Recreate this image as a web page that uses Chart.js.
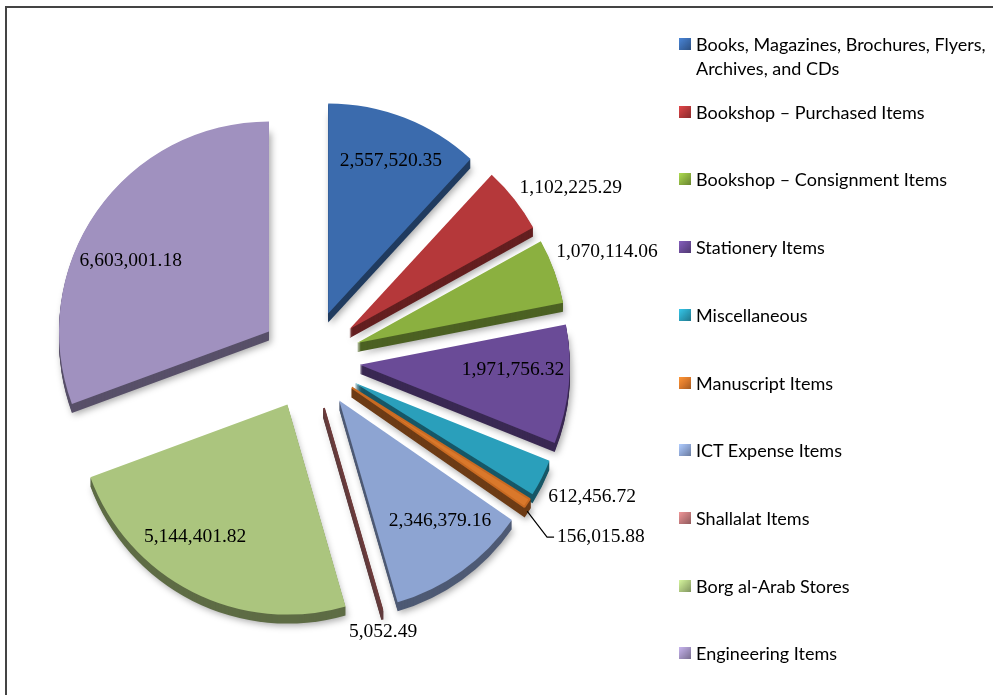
<!DOCTYPE html>
<html>
<head>
<meta charset="utf-8">
<script src="https://cdn.jsdelivr.net/npm/chart.js@4/dist/chart.umd.min.js"></script>
<style>
  body { margin: 0; background: #fff; }
  #frame {
    position: absolute; left: 5px; top: 6px; width: 1000px; height: 700px;
    border-top: 2px solid #444; border-left: 2px solid #444;
  }
  #pie { position: absolute; left: 0; top: 0; }
  #legend { position: absolute; left: 679px; top: 0; font: 18px Lato, "Open Sans", sans-serif; color: #000; }
  .item { position: absolute; left: 0; display: flex; align-items: flex-start; white-space: nowrap; line-height: 24px; }
  .swatch { width: 12px; height: 12px; margin-top: 6px; margin-right: 5px; flex: none; }
</style>
</head>
<body>
<div id="frame"></div>
<canvas id="pie" width="993" height="695"></canvas>
<div id="legend"></div>
<script>
// categories and amounts
const categories = [
  ["Books, Magazines, Brochures, Flyers,", "Archives, and CDs"],
  "Bookshop \u2013 Purchased Items",
  "Bookshop \u2013 Consignment Items",
  "Stationery Items",
  "Miscellaneous",
  "Manuscript Items",
  "ICT Expense Items",
  "Shallalat Items",
  "Borg al-Arab Stores",
  "Engineering Items"
];
const amounts = [2557520.35, 1102225.29, 1070114.06, 1971756.32, 612456.72,
                 156015.88, 2346379.16, 5052.49, 5144401.82, 6603001.18];

const sliceColors = ["#3B6BAD", "#B5383A", "#8BB040", "#6A4B97", "#2A9FBB",
                     "#D9782B", "#8DA4D2", "#C0787A", "#ABC57E", "#A091BF"];
// the two thinnest slices get an outline so they stay visible
const sliceBorders = [0, 0, 0, 0, 0, 2, 0, 2, 0, 0];
const sliceBorderColors = ["#000", "#000", "#000", "#000", "#000",
                           "#C86A22", "#000", "#6E3B3B", "#000", "#000"];

// where each value label sits: fraction of radius, and a small angle tweak (deg)
const labelRadius = [0.785, 1.25, 1.267, 0.73, 1.255, 1.384, 0.748, 1.103, 0.769, 0.738];
const labelTurn = [1, 5.6, 0, -3.4, -1.3, -2.4, -4.2, 1.3, 8, -8];
const leaderLines = [false, false, false, false, false, true, false, false, false, false];

const EXPLODE = 50;
const DEPTH = 9;

function shade(hex, f) {
  const n = parseInt(hex.slice(1), 16);
  const r = Math.min(255, Math.round(((n >> 16) & 255) * f));
  const g = Math.min(255, Math.round(((n >> 8) & 255) * f));
  const b = Math.min(255, Math.round((n & 255) * f));
  return `rgb(${r},${g},${b})`;
}

// pull every slice out from the centre and give it a thick lower side
const explodedPie = {
  id: "explodedPie",
  beforeDatasetDraw(chart, args) {
    const ctx = chart.ctx;
    const arcs = args.meta.data;

    arcs.forEach((arc, i) => {
      const mid = (arc.startAngle + arc.endAngle) / 2;
      const dx = Math.cos(mid) * EXPLODE, dy = Math.sin(mid) * EXPLODE;
      ctx.save();
      ctx.translate(dx, dy);
      ctx.fillStyle = shade(sliceColors[i], 0.55);
      ctx.strokeStyle = shade(sliceColors[i], 0.5);
      for (let k = DEPTH; k >= 1; k--) {
        if (k === DEPTH) {
          ctx.shadowColor = "rgba(0,0,0,0.35)";
          ctx.shadowBlur = 7;
          ctx.shadowOffsetX = 2;
          ctx.shadowOffsetY = 2;
        } else {
          ctx.shadowColor = "transparent";
        }
        ctx.beginPath();
        ctx.moveTo(arc.x, arc.y + k);
        ctx.arc(arc.x, arc.y + k, arc.outerRadius, arc.startAngle, arc.endAngle);
        ctx.closePath();
        ctx.fill();
        if (sliceBorders[i]) { ctx.lineWidth = sliceBorders[i]; ctx.stroke(); }
      }
      ctx.restore();
    });

    arcs.forEach(arc => {
      const mid = (arc.startAngle + arc.endAngle) / 2;
      ctx.save();
      ctx.translate(Math.cos(mid) * EXPLODE, Math.sin(mid) * EXPLODE);
      arc.draw(ctx);
      ctx.restore();
    });
    return false;
  }
};

// value labels, with a leader line for the narrow ones
const sliceLabels = {
  id: "sliceLabels",
  afterDatasetsDraw(chart) {
    const ctx = chart.ctx;
    const arcs = chart.getDatasetMeta(0).data;
    ctx.save();
    ctx.font = '19.5px "Liberation Serif", "Times New Roman", serif';
    ctx.fillStyle = "#000";
    ctx.textAlign = "center";
    ctx.textBaseline = "middle";
    arcs.forEach((arc, i) => {
      const mid = (arc.startAngle + arc.endAngle) / 2;
      const vx = arc.x + Math.cos(mid) * EXPLODE;
      const vy = arc.y + Math.sin(mid) * EXPLODE;
      const a = mid + labelTurn[i] * Math.PI / 180;
      const r = arc.outerRadius * labelRadius[i];
      const tx = vx + Math.cos(a) * r;
      const ty = vy + Math.sin(a) * r;
      const text = amounts[i].toLocaleString("en-US", { minimumFractionDigits: 2, maximumFractionDigits: 2 });
      if (leaderLines[i]) {
        const w = ctx.measureText(text).width;
        const ex = vx + Math.cos(mid) * arc.outerRadius;
        const ey = vy + Math.sin(mid) * arc.outerRadius + DEPTH - 1;
        ctx.beginPath();
        ctx.moveTo(ex, ey);
        ctx.lineTo(tx - w / 2 - 10, ty);
        ctx.lineTo(tx - w / 2 - 3, ty);
        ctx.strokeStyle = "#000";
        ctx.lineWidth = 1.2;
        ctx.stroke();
      }
      ctx.fillText(text, tx, ty);
    });
    ctx.restore();
  }
};

new Chart(document.getElementById("pie"), {
  type: "pie",
  data: {
    labels: categories.map(c => Array.isArray(c) ? c.join(" ") : c),
    datasets: [{
      data: amounts,
      backgroundColor: sliceColors,
      borderWidth: sliceBorders,
      borderColor: sliceBorderColors
    }]
  },
  options: {
    responsive: false,
    animation: false,
    radius: 210,
    layout: { padding: { top: 25, right: 373 } },
    plugins: {
      legend: { display: false },
      tooltip: { enabled: false }
    }
  },
  plugins: [explodedPie, sliceLabels]
});

// legend down the right-hand side
const legend = document.getElementById("legend");
categories.forEach((c, i) => {
  const item = document.createElement("div");
  item.className = "item";
  item.style.top = (32 + i * 67.7) + "px";
  const sw = document.createElement("span");
  sw.className = "swatch";
  sw.style.background = `linear-gradient(135deg, ${shade(sliceColors[i], 1.25)}, ${sliceColors[i]} 50%, ${shade(sliceColors[i], 0.75)})`;
  const txt = document.createElement("span");
  txt.innerHTML = Array.isArray(c) ? c.join("<br>") : c;
  item.appendChild(sw);
  item.appendChild(txt);
  legend.appendChild(item);
});
</script>
</body>
</html>
